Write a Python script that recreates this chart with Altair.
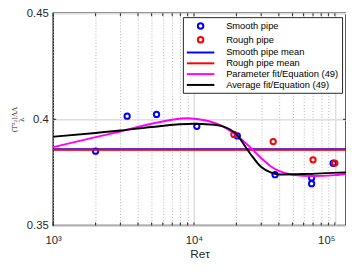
import altair as alt
import pandas as pd

# ---- data ----
series = ["Smooth pipe", "Rough pipe", "Smooth pipe mean", "Rough pipe mean",
          "Parameter fit/Equation (49)", "Average fit/Equation (49)"]
colors = ["#0000ff", "#ff0000", "#0000ff", "#ff0000", "#ff00ff", "#000000"]

smooth_x = [2000, 3350, 5420, 10470, 20300, 37600, 68400, 68400, 97300]
smooth_y = [0.3850, 0.4015, 0.4023, 0.3967, 0.3922, 0.3739, 0.3724, 0.3697, 0.3793]

rough_x = [19200, 36500, 70000, 100000]
rough_y = [0.3929, 0.3895, 0.3809, 0.3794]

mean_x = [1000, 120000]
smooth_mean = [0.3859, 0.3859]
rough_mean = [0.3857, 0.3857]

param_x = [1000, 2000, 3000, 5000, 7000, 9000, 10000, 13000, 16000, 20000,
           25000, 30000, 35000, 40000, 50000, 70000, 100000, 120000]
param_y = [0.3869, 0.3916, 0.3943, 0.3979, 0.3998, 0.4005, 0.4003, 0.3990, 0.3967, 0.3925,
           0.3869, 0.3817, 0.3779, 0.3757, 0.3739, 0.3733, 0.3737, 0.3742]

avg_x = [1000, 2000, 3000, 5000, 10000, 13000, 16000, 20000, 25000, 30000,
         35000, 40000, 60000, 120000]
avg_y = [0.3918, 0.3936, 0.3947, 0.3964, 0.3979, 0.3976, 0.3967, 0.3929, 0.3839, 0.3775,
         0.3750, 0.3740, 0.3742, 0.3750]

major_ticks = [1000, 10000, 100000]
minor_ticks = [2000, 3000, 4000, 5000, 6000, 7000, 8000, 9000,
               20000, 30000, 40000, 50000, 60000, 70000, 80000, 90000]
y_ticks = [0.35, 0.40, 0.45]

# ---- tables ----
def frame(xs, ys, name):
    return pd.DataFrame({"x": xs, "y": ys, "series": name})

pts = pd.concat([frame(smooth_x, smooth_y, series[0]),
                 frame(rough_x, rough_y, series[1])])
lines = [frame(mean_x, smooth_mean, series[2]),
         frame(mean_x, rough_mean, series[3]),
         frame(param_x, param_y, series[4]),
         frame(avg_x, avg_y, series[5])]
ticks_df = pd.DataFrame({"x": major_ticks + minor_ticks})
ytick_df = pd.DataFrame({"y": [0.40]})

circle_path = "M0,-0.56A0.56,0.56 0 1,1 0,0.56A0.56,0.56 0 1,1 0,-0.56Z"
stroke_path = "M-2.8,0H2.8"
shapes = [circle_path, circle_path] + [stroke_path] * 4

FONT = "Liberation Sans"
W, H = 298, 216

xscale = alt.Scale(type="log", domain=[1000, 120000], nice=False)
yscale = alt.Scale(domain=[0.35, 0.45], nice=False, zero=False)

color_enc = alt.Color(
    "series:N",
    scale=alt.Scale(domain=series, range=colors),
    legend=alt.Legend(
        title=None, orient="top-right", offset=4, fillColor="white",
        strokeColor="#262626", padding=3, labelFont=FONT, labelFontSize=9.5,
        labelColor="#000000", symbolSize=100, symbolStrokeWidth=2,
        symbolFillColor="transparent", symbolOffset=9, rowPadding=0,
        labelOffset=20, labelLimit=300,
    ),
)

major_test = "datum.value == 10000 || datum.value == 100000"
x_axis = alt.Axis(
    values=major_ticks + minor_ticks,
    labelExpr="datum.value == 1000 ? '10³' : datum.value == 10000 ? '10⁴' : datum.value == 100000 ? '10⁵' : ''",
    labelAlign={"condition": {"test": "datum.value == 100000", "value": "right"}, "value": "center"},
    grid=True,
    gridDash={"condition": {"test": major_test, "value": []}, "value": [1, 2]},
    gridColor={"condition": {"test": major_test, "value": "#dedede"}, "value": "#b4b4b4"},
    gridWidth={"condition": {"test": major_test, "value": 1.5}, "value": 1},
    ticks=False, domain=False, labelFont=FONT, labelFontSize=11.5, labelColor="#262626",
    labelPadding=9, labelOverlap=False, labelFlush=False,
    title="Reτ", titleFont=FONT, titleFontSize=12, titleFontWeight="normal",
    titleColor="#262626", titlePadding=3,
)
y_axis = alt.Axis(
    values=y_ticks, format="~g", grid=True, gridColor="#dedede", gridWidth=1.5,
    ticks=False, domain=False, labelFont=FONT, labelFontSize=11.5, labelColor="#262626",
    labelPadding=5,
    title=["⟨T²₂⟩ΛΛ", "λ"], titleFont="DejaVu Serif", titleFontSize=7,
    titleFontWeight="normal", titleColor="#262626", titlePadding=2, titleLineHeight=7,
)

base_x = alt.X("x:Q", scale=xscale, axis=x_axis)
base_y = alt.Y("y:Q", scale=yscale, axis=y_axis)

tick_bottom = alt.Chart(ticks_df).mark_rule(color="#262626", strokeWidth=1).encode(
    x=alt.X("x:Q", scale=xscale), y=alt.datum(0.35), y2=alt.datum(0.3514))
tick_top = alt.Chart(ticks_df).mark_rule(color="#262626", strokeWidth=1).encode(
    x=alt.X("x:Q", scale=xscale), y=alt.datum(0.45), y2=alt.datum(0.4486))
ytick_left = alt.Chart(ytick_df).mark_rule(color="#262626", strokeWidth=1).encode(
    y=alt.Y("y:Q", scale=yscale), x=alt.value(0), x2=alt.value(3))
ytick_right = alt.Chart(ytick_df).mark_rule(color="#262626", strokeWidth=1).encode(
    y=alt.Y("y:Q", scale=yscale), x=alt.value(W - 3), x2=alt.value(W))

point_layer = alt.Chart(pts).mark_point(filled=False, strokeWidth=2, size=93, opacity=1).encode(
    x=base_x, y=base_y, color=color_enc,
    shape=alt.Shape("series:N", scale=alt.Scale(domain=series, range=shapes)),
)

line_layers = [
    alt.Chart(df).mark_line(strokeWidth=2, interpolate="monotone").encode(
        x=alt.X("x:Q", scale=xscale), y=alt.Y("y:Q", scale=yscale), color=color_enc)
    for df in lines
]

chart = alt.layer(tick_bottom, tick_top, ytick_left, ytick_right,
                  point_layer, *line_layers).properties(
    width=W, height=H,
    autosize=alt.AutoSizeParams(type="none"),
    padding={"left": 46, "top": 3, "right": 0, "bottom": 40},
).configure_view(stroke="#262626", strokeWidth=1.5)

chart.save("out.html", embed_options={"renderer": "svg", "actions": False})
